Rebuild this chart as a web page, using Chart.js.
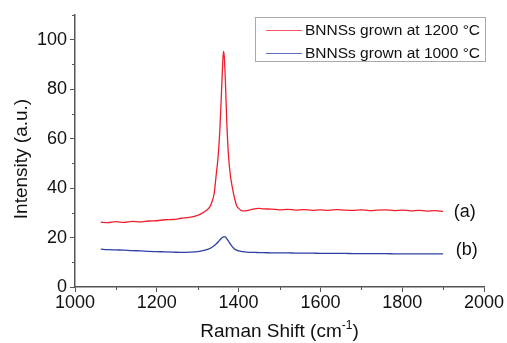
<!DOCTYPE html>
<html>
<head>
<meta charset="utf-8">
<script src="https://cdn.jsdelivr.net/npm/chart.js@4.4.0/dist/chart.umd.min.js"></script>
<style>
  html, body { margin: 0; padding: 0; background: #fff; }
  #wrap { width: 507px; height: 343px; }
</style>
</head>
<body>
<div id="wrap"><canvas id="myChart" width="507" height="343"></canvas></div>
<script>
// raman shift positions (cm-1), shared by both spectra
const shift = [1063, 1080, 1100, 1120, 1140, 1160, 1180, 1200, 1220, 1240, 1260, 1280, 1300, 1310, 1320, 1330, 1335, 1340, 1345, 1350,
    1354, 1358, 1361, 1363, 1365, 1368, 1371, 1375, 1380, 1385, 1390, 1395, 1400, 1410, 1420, 1430, 1440, 1450, 1460, 1480,
    1500, 1520, 1540, 1560, 1580, 1600, 1620, 1640, 1660, 1680, 1700, 1720, 1740, 1760, 1780, 1800, 1820, 1840, 1860, 1880, 1900]

// (a) grown at 1200 C
const grown1200 = [26.2, 26.0, 26.4, 26.1, 26.5, 26.3, 26.7, 26.8, 27.2, 27.3, 27.8, 28.2, 29.0, 29.8, 30.8, 32.5, 34.5, 37.5, 45.0, 53.0,
    63.0, 78.0, 90.0, 95.3, 93.0, 82.0, 67.0, 54.0, 45.0, 40.0, 36.0, 33.0, 31.8, 30.8, 30.9, 31.3, 31.6, 31.8, 31.6, 31.5,
    31.2, 31.4, 31.1, 31.3, 31.0, 31.2, 31.0, 31.3, 31.1, 31.0, 31.2, 30.9, 31.1, 31.2, 30.9, 31.1, 30.8, 31.0, 30.7, 30.9, 30.6]

// (b) grown at 1000 C
const grown1000 = [15.3, 15.1, 15.0, 14.9, 14.7, 14.6, 14.4, 14.3, 14.2, 14.1, 14.0, 14.1, 14.3, 14.6, 15.0, 15.6, 16.1, 16.7, 17.4, 18.2,
    19.0, 19.7, 20.1, 20.3, 20.4, 20.2, 19.6, 18.6, 17.3, 16.2, 15.4, 14.9, 14.6, 14.3, 14.1, 14.0, 14.0, 13.9, 13.9, 13.8,
    13.8, 13.8, 13.7, 13.7, 13.7, 13.6, 13.6, 13.6, 13.6, 13.5, 13.5, 13.5, 13.5, 13.5, 13.4, 13.4, 13.4, 13.4, 13.4, 13.4, 13.4]

const seriesNames = ['BNNSs grown at 1200 \u00B0C', 'BNNSs grown at 1000 \u00B0C']
const curveTags = ['(a)', '(b)']

const xTicks = [1000, 1200, 1400, 1600, 1800, 2000]
const xMinor = [1100, 1300, 1500, 1700, 1900]
const yTicks = [0, 20, 40, 60, 80, 100]
const yMinor = [10, 30, 50, 70, 90, 110]

const red = 'rgb(240, 30, 45)'
const blue = 'rgb(45, 65, 165)'
const axisColor = '#555'
const font = 'Liberation Sans, Arial, sans-serif'

function points(ys) {
    return shift.map((x, i) => ({ x: x, y: ys[i] }))
}

const extras = {
    id: 'extras',
    afterDraw(chart) {
        const ctx = chart.ctx
        const xs = chart.scales.x
        const ys = chart.scales.y
        const area = chart.chartArea
        ctx.save()

        // minor ticks
        ctx.strokeStyle = axisColor
        ctx.lineWidth = 1
        ctx.beginPath()
        yMinor.forEach(v => {
            const p = Math.round(ys.getPixelForValue(v)) + 0.5
            ctx.moveTo(area.left - 3, p)
            ctx.lineTo(area.left, p)
        })
        xMinor.forEach(v => {
            const p = Math.round(xs.getPixelForValue(v)) + 0.5
            ctx.moveTo(p, area.bottom)
            ctx.lineTo(p, area.bottom + 3)
        })
        ctx.stroke()

        ctx.fillStyle = '#111'

        // y title
        ctx.save()
        ctx.translate(22, 159)
        ctx.rotate(-Math.PI / 2)
        ctx.font = '19px ' + font
        ctx.textAlign = 'center'
        ctx.textBaseline = 'middle'
        ctx.fillText('Intensity (a.u.)', 0, 0)
        ctx.restore()

        // x title with superscript
        ctx.font = '19px ' + font
        ctx.textBaseline = 'alphabetic'
        const main = 'Raman Shift (cm'
        const sup = '-1'
        const end = ')'
        const wMain = ctx.measureText(main).width
        const wEnd = ctx.measureText(end).width
        ctx.font = '12px ' + font
        const wSup = ctx.measureText(sup).width
        const cx = (area.left + area.right) / 2
        let tx = cx - (wMain + wSup + wEnd) / 2
        const ty = 337
        ctx.font = '19px ' + font
        ctx.textAlign = 'left'
        ctx.fillText(main, tx, ty)
        ctx.font = '12px ' + font
        ctx.fillText(sup, tx + wMain, ty - 8)
        ctx.font = '19px ' + font
        ctx.fillText(end, tx + wMain + wSup, ty)

        // curve tags
        ctx.font = '18px ' + font
        ctx.textAlign = 'center'
        ctx.textBaseline = 'middle'
        ctx.fillText(curveTags[0], xs.getPixelForValue(1953), ys.getPixelForValue(30.4))
        ctx.fillText(curveTags[1], xs.getPixelForValue(1958), ys.getPixelForValue(15))

        // legend box
        ctx.strokeStyle = '#aaa'
        ctx.lineWidth = 1
        ctx.strokeRect(255.5, 17.5, 230, 44)
        const colors = [red, blue]
        ctx.font = '15.5px ' + font
        ctx.textAlign = 'left'
        seriesNames.forEach((name, i) => {
            const y = 30 + i * 23
            ctx.strokeStyle = colors[i]
            ctx.globalAlpha = 0.75
            ctx.beginPath()
            ctx.moveTo(266, y + 0.5)
            ctx.lineTo(302, y + 0.5)
            ctx.stroke()
            ctx.globalAlpha = 1
            ctx.fillStyle = '#111'
            ctx.fillText(name, 305, y + 1)
        })

        ctx.restore()
    }
}

const ctx = document.getElementById('myChart').getContext('2d')
const myChart = new Chart(ctx, {
    type: 'line',
    data: {
        datasets: [{
            label: seriesNames[0],
            data: points(grown1200),
            borderColor: red,
            borderWidth: 1.3,
            pointRadius: 0,
            cubicInterpolationMode: 'monotone'
        }, {
            label: seriesNames[1],
            data: points(grown1000),
            borderColor: blue,
            borderWidth: 1.3,
            pointRadius: 0,
            cubicInterpolationMode: 'monotone'
        }]
    },
    options: {
        responsive: false,
        animation: false,
        layout: { padding: { left: 0, top: 15, right: 23, bottom: 0 } },
        plugins: { legend: { display: false }, tooltip: { enabled: false } },
        scales: {
            x: {
                type: 'linear',
                min: 1000,
                max: 2000,
                afterBuildTicks: s => { s.ticks = xTicks.map(v => ({ value: v })) },
                afterFit: s => { s.height = 56 },
                grid: { drawOnChartArea: false, tickLength: 5, color: axisColor },
                border: { color: axisColor, width: 1.5 },
                ticks: { color: '#111', padding: 0, maxRotation: 0, font: { family: font, size: 18 }, callback: v => String(v) }
            },
            y: {
                min: 0,
                max: 110,
                afterBuildTicks: s => { s.ticks = yTicks.map(v => ({ value: v })) },
                afterFit: s => { s.width = 75 },
                grid: { drawOnChartArea: false, tickLength: 5, color: axisColor },
                border: { color: axisColor, width: 1.5 },
                ticks: { color: '#111', padding: 3, font: { family: font, size: 18 } }
            }
        }
    },
    plugins: [extras]
})
</script>
</body>
</html>
